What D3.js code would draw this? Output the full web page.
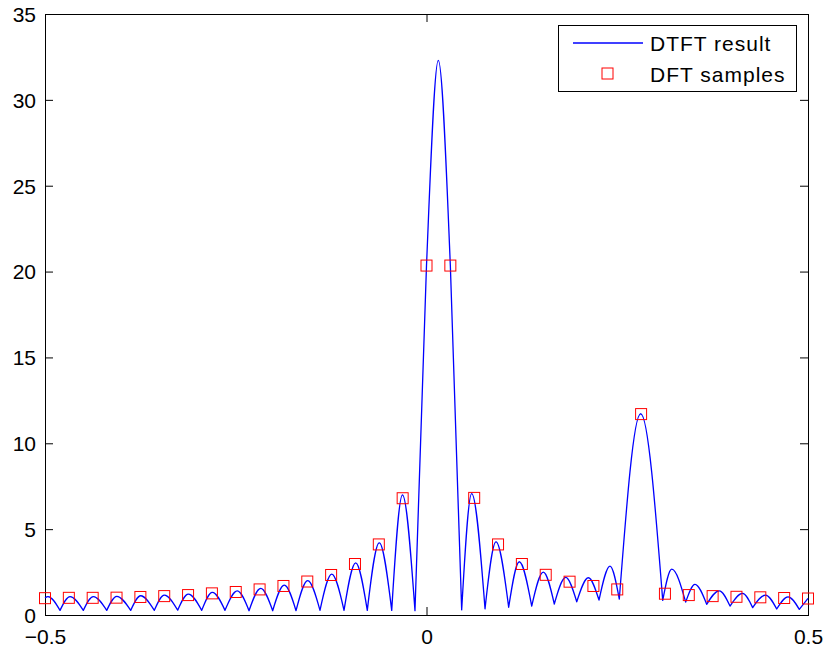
<!DOCTYPE html>
<html>
<head>
<meta charset="utf-8">
<script src="https://cdn.jsdelivr.net/npm/d3@7"></script>
<style>
  body { margin: 0; background: #fff; }
  svg { display: block; font-family: "Liberation Sans", Arial, Helvetica, sans-serif; }
</style>
</head>
<body>
<svg width="826" height="651"></svg>
<script>
// DFT sample frequencies (normalized) and magnitudes
var dftFreq = [-0.5, -0.46875, -0.4375, -0.40625, -0.375, -0.34375, -0.3125, -0.28125,
               -0.25, -0.21875, -0.1875, -0.15625, -0.125, -0.09375, -0.0625, -0.03125,
               0, 0.03125, 0.0625, 0.09375, 0.125, 0.15625, 0.1875, 0.21875,
               0.25, 0.28125, 0.3125, 0.34375, 0.375, 0.40625, 0.4375, 0.46875, 0.5];
var dftMag = [0.98, 1.0, 1.0, 1.01, 1.05, 1.1, 1.16, 1.26,
              1.34, 1.49, 1.69, 1.95, 2.33, 2.97, 4.11, 6.8,
              20.35, 20.35, 6.82, 4.11, 2.97, 2.34, 1.94, 1.69,
              1.49, 11.7, 1.24, 1.16, 1.1, 1.06, 1.03, 0.99, 0.96];

// DTFT curve: lobe peaks and nulls
var dtftFreq = [-0.5, -0.4961, -0.4803, -0.4672, -0.4498, -0.4367, -0.4191, -0.4060,
                -0.3877, -0.3746, -0.3567, -0.3436, -0.3261, -0.3122, -0.2946, -0.2807,
                -0.2641, -0.2480, -0.2326, -0.2173, -0.2016, -0.1864, -0.1710, -0.1557,
                -0.1396, -0.1242, -0.1081, -0.0928, -0.0776, -0.0619, -0.0456, -0.0315,
                -0.0151, 0, 0.0155, 0.03125, 0.0461, 0.0592, 0.0767, 0.0911,
                0.1077, 0.1216, 0.1379, 0.1531, 0.1675, 0.1824, 0.1969, 0.2121,
                0.2261, 0.2405, 0.2527, 0.2807, 0.3096, 0.3214, 0.3397, 0.3519,
                0.3672, 0.3837, 0.3978, 0.4142, 0.4275, 0.4443, 0.4590, 0.4738,
                0.4886, 0.5];
var dtftMag = [1.0, 1.07, 0.27, 1.07, 0.27, 1.07, 0.27, 1.09,
               0.27, 1.12, 0.27, 1.16, 0.28, 1.22, 0.27, 1.32,
               0.27, 1.40, 0.25, 1.55, 0.25, 1.74, 0.25, 2.0,
               0.27, 2.38, 0.27, 3.04, 0.27, 4.2, 0.27, 7.0,
               0.25, 20.35, 32.3, 20.35, 0.3, 7.07, 0.36, 4.26,
               0.45, 3.1, 0.52, 2.5, 0.64, 2.19, 0.77, 2.17,
               0.87, 2.85, 0.93, 11.72, 0.85, 2.67, 0.75, 1.78,
               0.62, 1.41, 0.52, 1.26, 0.43, 1.16, 0.35, 1.06,
               0.33, 0.97];

var xTicks = [-0.5, 0, 0.5];
var yTicks = [0, 5, 10, 15, 20, 25, 30, 35];

function createChart() {
    const svg = d3.select("svg");
    const left = 45, right = 808, top = 14, bottom = 615;
    const tick = 8;

    const xScale = d3.scaleLinear().domain([-0.5, 0.5]).range([left, right]);
    const yScale = d3.scaleLinear().domain([0, 35]).range([bottom, top]);

    const fmt = d => d < 0 ? "\u2212" + Math.abs(d) : String(d);

    const xAxis = d3.axisBottom(xScale).tickValues(xTicks)
          .tickSizeInner(-tick).tickSizeOuter(0).tickPadding(14).tickFormat(fmt);
    const yAxis = d3.axisLeft(yScale).tickValues(yTicks)
          .tickSizeInner(-tick).tickSizeOuter(0).tickPadding(9);
    const xTop = d3.axisTop(xScale).tickValues(xTicks)
          .tickSizeInner(-tick).tickSizeOuter(0).tickFormat("");
    const yRight = d3.axisRight(yScale).tickValues(yTicks)
          .tickSizeInner(-tick).tickSizeOuter(0).tickFormat("");

    svg.append("g").attr("transform", `translate(0,${bottom})`).call(xAxis);
    svg.append("g").attr("id", "yAxisG").attr("transform", `translate(${left},0)`).call(yAxis);
    svg.append("g").attr("transform", `translate(0,${top})`).call(xTop);
    svg.append("g").attr("transform", `translate(${right},0)`).call(yRight);

    svg.selectAll(".domain").remove();
    svg.selectAll(".tick line").attr("stroke", "#000");
    svg.selectAll(".tick text")
        .attr("fill", "#000")
        .style("font-size", "21px")
        .style("font-family", "'Liberation Sans', Arial, Helvetica, sans-serif");
    svg.selectAll("#yAxisG .tick text").attr("dy", "0.35em");

    svg.append("rect")
        .attr("x", left + 0.5).attr("y", top + 0.5)
        .attr("width", right - left).attr("height", bottom - top)
        .attr("fill", "none").attr("stroke", "#000").attr("stroke-width", 1);

    // DTFT curve: each lobe drawn null-to-null so the nulls stay sharp
    const pts = dtftFreq.map((f, i) => [f, dtftMag[i]]);
    const segs = [];
    let cur = [pts[0]];
    for (let i = 1; i < pts.length; i++) {
        cur.push(pts[i]);
        if (i < pts.length - 1 && pts[i][1] < pts[i - 1][1] && pts[i][1] < pts[i + 1][1]) {
            segs.push(cur);
            cur = [pts[i]];
        }
    }
    segs.push(cur);
    const line = d3.line()
          .x(d => xScale(d[0]))
          .y(d => yScale(d[1]))
          .curve(d3.curveMonotoneX);
    const pathD = segs.map((s, i) => {
        const d = line(s);
        return i === 0 ? d : "L" + d.slice(1);
    }).join("");
    svg.append("path")
        .attr("d", pathD)
        .attr("fill", "none")
        .attr("stroke", "#0000ff")
        .attr("stroke-width", 1.3)
        .attr("stroke-linejoin", "round");

    // DFT samples
    const sq = 11;
    svg.selectAll("rect.dft")
        .data(dftFreq)
        .enter()
        .append("rect")
        .attr("class", "dft")
        .attr("x", (d, i) => xScale(d) - sq / 2)
        .attr("y", (d, i) => yScale(dftMag[i]) - sq / 2)
        .attr("width", sq).attr("height", sq)
        .attr("fill", "none")
        .attr("stroke", "#ff0000")
        .attr("stroke-width", 1);

    // legend
    const lg = svg.append("g");
    lg.append("rect")
        .attr("x", 558.5).attr("y", 25.5).attr("width", 238).attr("height", 66)
        .attr("fill", "#fff").attr("stroke", "#000");
    lg.append("line")
        .attr("x1", 573).attr("x2", 643).attr("y1", 43).attr("y2", 43)
        .attr("stroke", "#0000ff").attr("stroke-width", 1.3);
    lg.append("rect")
        .attr("x", 602).attr("y", 68).attr("width", sq).attr("height", sq)
        .attr("fill", "none").attr("stroke", "#ff0000");
    lg.selectAll("text")
        .data(["DTFT result", "DFT samples"])
        .enter().append("text")
        .attr("x", 650)
        .attr("y", (d, i) => 51 + i * 30.5)
        .style("font-size", "21px")
        .style("letter-spacing", "1px")
        .attr("fill", "#000")
        .text(d => d);
}
createChart();
</script>
</body>
</html>
